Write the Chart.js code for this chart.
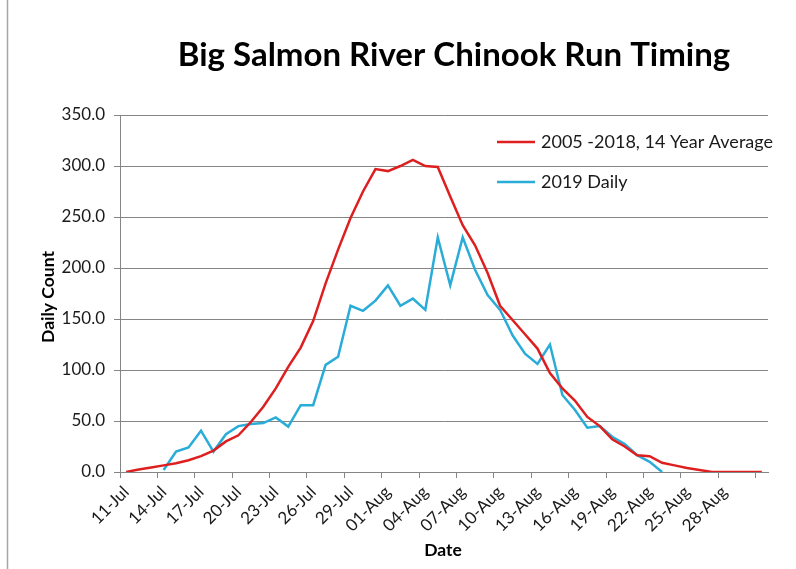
<!DOCTYPE html>
<html>
<head>
<meta charset="utf-8">
<script src="https://cdn.jsdelivr.net/npm/chart.js@4.4.0/dist/chart.umd.min.js"></script>
<style>
  html, body { margin: 0; padding: 0; background: #ffffff; }
  #wrap { width: 796px; height: 569px; position: relative; }
</style>
</head>
<body>
<div id="wrap"><canvas id="c" width="796" height="569"></canvas></div>
<script>
// Daily categories, 11 July through 31 August
const dates = [
  '11-Jul','12-Jul','13-Jul','14-Jul','15-Jul','16-Jul','17-Jul','18-Jul','19-Jul','20-Jul',
  '21-Jul','22-Jul','23-Jul','24-Jul','25-Jul','26-Jul','27-Jul','28-Jul','29-Jul','30-Jul',
  '31-Jul','01-Aug','02-Aug','03-Aug','04-Aug','05-Aug','06-Aug','07-Aug','08-Aug','09-Aug',
  '10-Aug','11-Aug','12-Aug','13-Aug','14-Aug','15-Aug','16-Aug','17-Aug','18-Aug','19-Aug',
  '20-Aug','21-Aug','22-Aug','23-Aug','24-Aug','25-Aug','26-Aug','27-Aug','28-Aug','29-Aug',
  '30-Aug','31-Aug'
];

// Dates that get a label on the x axis
const tickDates = [
  '11-Jul','14-Jul','17-Jul','20-Jul','23-Jul','26-Jul','29-Jul',
  '01-Aug','04-Aug','07-Aug','10-Aug','13-Aug','16-Aug','19-Aug',
  '22-Aug','25-Aug','28-Aug'
];

const avgLabel = '2005 -2018, 14 Year Average';
const dailyLabel = '2019 Daily';

// 14-year average daily count
const avgCounts = [
  0, 2.5, 4.5, 6.5, 8.5, 11.5, 15.5, 21, 30, 36,
  49, 64, 82, 103, 122, 148, 185, 218, 249, 275,
  297, 295, 300, 306, 300, 299, 270, 242, 222, 195,
  163, 149, 135, 121, 97, 82, 70, 54, 45, 32,
  25, 16.5, 15.5, 9, 6.5, 4, 2, 0, 0, 0,
  0, 0
];

// 2019 daily count
const dailyCounts = [
  null, null, null, 2, 20, 24, 40.5, 20, 37, 45,
  47, 48, 53.5, 44.5, 65.5, 65.5, 105, 113, 163, 158,
  168, 183, 163, 170, 159, 230, 183, 230, 198, 173.5,
  159, 134, 116, 106, 125, 75.5, 61, 43.5, 45, 34.5,
  27.5, 16.5, 10, 0, null, null, null, null, null, null,
  null, null
];

const yMin = 0, yMax = 350, yStep = 50;

const FONT = 'Lato, "Open Sans", "DejaVu Sans", sans-serif';
const RED = '#de1f1f';
const BLUE = '#29acd8';
const GRID = '#858585';
const TEXT = '#1a1a1a';

const decorations = {
  id: 'decorations',
  beforeDraw(chart) {
    const ctx = chart.ctx;
    ctx.save();
    ctx.fillStyle = '#ffffff';
    ctx.fillRect(0, 0, chart.width, chart.height);
    ctx.strokeStyle = '#a6a6a6';
    ctx.lineWidth = 1.5;
    ctx.beginPath();
    ctx.moveTo(7.5, 0);
    ctx.lineTo(7.5, chart.height);
    ctx.stroke();
    ctx.restore();
  },
  afterDraw(chart) {
    const ctx = chart.ctx;
    ctx.save();
    ctx.fillStyle = '#000000';
    ctx.textAlign = 'center';
    ctx.textBaseline = 'middle';
    ctx.font = 'bold 33px ' + FONT;
    ctx.fillText('Big Salmon River Chinook Run Timing', 454, 55);

    ctx.font = 'bold 17.5px ' + FONT;
    ctx.fillText('Date', 443, 550);

    ctx.save();
    ctx.translate(48, 297);
    ctx.rotate(-Math.PI / 2);
    ctx.fillText('Daily Count', 0, 0);
    ctx.restore();

    // legend
    const rows = [142, 182];
    ctx.font = '18px ' + FONT;
    ctx.textAlign = 'left';
    chart.data.datasets.forEach((ds, i) => {
      const y = rows[i];
      ctx.strokeStyle = ds.borderColor;
      ctx.lineWidth = 2.5;
      ctx.beginPath();
      ctx.moveTo(497, y);
      ctx.lineTo(535, y);
      ctx.stroke();
      ctx.fillStyle = TEXT;
      ctx.fillText(ds.label, 541, y);
    });
    ctx.restore();
  }
};

new Chart(document.getElementById('c'), {
  type: 'line',
  data: {
    labels: dates,
    datasets: [
      {
        label: avgLabel,
        data: avgCounts,
        borderColor: RED,
        backgroundColor: RED,
        borderWidth: 2.5,
        pointRadius: 0,
        tension: 0
      },
      {
        label: dailyLabel,
        data: dailyCounts,
        borderColor: BLUE,
        backgroundColor: BLUE,
        borderWidth: 2.5,
        pointRadius: 0,
        tension: 0,
        spanGaps: false
      }
    ]
  },
  options: {
    responsive: false,
    animation: false,
    events: [],
    layout: { padding: { top: 115, right: 28, left: 0, bottom: 0 } },
    plugins: {
      legend: { display: false },
      title: { display: false },
      tooltip: { enabled: false }
    },
    scales: {
      x: {
        type: 'category',
        offset: true,
        afterFit(scale) { scale.height = 97; },
        grid: {
          offset: true,
          drawOnChartArea: false,
          drawTicks: true,
          tickLength: 6,
          color: (c) => (c.index % 3 === 0 && c.index <= 51) ? GRID : 'rgba(0,0,0,0)'
        },
        border: { display: true, color: GRID, width: 1 },
        ticks: {
          autoSkip: false,
          minRotation: 45,
          maxRotation: 45,
          padding: 4,
          color: TEXT,
          font: { family: FONT, size: 17 },
          callback(value, index) {
            const lbl = dates[index];
            return tickDates.includes(lbl) ? lbl : '';
          }
        }
      },
      y: {
        min: yMin,
        max: yMax,
        afterFit(scale) { scale.width = 120; },
        grid: {
          color: GRID,
          lineWidth: 1,
          tickLength: 6
        },
        border: { display: true, color: GRID, width: 1 },
        ticks: {
          stepSize: yStep,
          padding: 9,
          color: TEXT,
          font: { family: FONT, size: 17 },
          callback: (v) => Number(v).toFixed(1)
        }
      }
    }
  },
  plugins: [decorations]
});
</script>
</body>
</html>
